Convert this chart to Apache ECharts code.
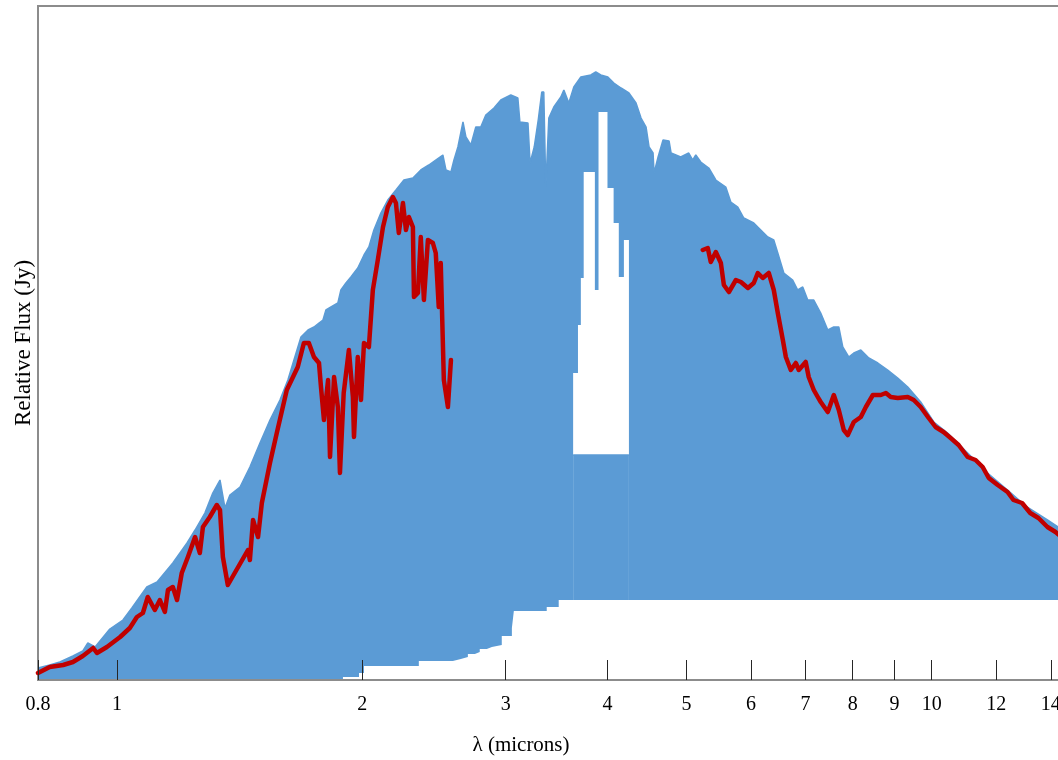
<!DOCTYPE html>
<html>
<head>
<meta charset="utf-8">
<script src="https://cdn.jsdelivr.net/npm/echarts@6/dist/echarts.min.js"></script>
<style>
  html, body { margin: 0; padding: 0; background: #fff; }
  #chart { width: 1058px; height: 760px; }
</style>
</head>
<body>
<div id="chart"></div>
<script>
// wavelength (microns) ticks
const xTicks = [0.8, 1, 2, 3, 4, 5, 6, 7, 8, 9, 10, 12, 14];

// model spectrum, upper envelope
const upperWl = [0.80, 0.827, 0.851, 0.883, 0.908, 0.921, 0.940, 0.980, 1.017, 1.043,
  1.088, 1.120, 1.171, 1.219, 1.247, 1.282, 1.311, 1.338, 1.357, 1.376,
  1.416, 1.456, 1.498, 1.541, 1.585, 1.621, 1.649, 1.682, 1.716, 1.745,
  1.770, 1.790, 1.805, 1.831, 1.867, 1.883, 1.910, 1.937, 1.975, 2.010,
  2.038, 2.067, 2.108, 2.150, 2.200, 2.250, 2.308, 2.360, 2.414, 2.462,
  2.512, 2.534, 2.570, 2.592, 2.621, 2.659, 2.681, 2.719, 2.757, 2.796,
  2.836, 2.902, 2.959, 3.044, 3.105, 3.123, 3.195, 3.214, 3.252, 3.289,
  3.322, 3.341, 3.360, 3.389, 3.437, 3.506, 3.536, 3.586, 3.637, 3.710,
  3.816, 3.870, 3.925, 4.004, 4.073, 4.156, 4.250, 4.336, 4.398, 4.461,
  4.499, 4.550, 4.563, 4.615, 4.680, 4.761, 4.788, 4.920, 5.033, 5.090,
  5.134, 5.207, 5.326, 5.433, 5.588, 5.668, 5.781, 5.880, 6.048, 6.134,
  6.293, 6.400, 6.473, 6.584, 6.751, 6.848, 6.946, 7.045, 7.166, 7.308,
  7.455, 7.583, 7.691, 7.778, 7.910, 8.024, 8.185, 8.372, 8.588, 8.831,
  9.085, 9.346, 9.694, 10.06, 10.46, 11.07, 11.71, 12.39, 13.09, 13.87,
  14.30, 14.80];
const upperFlux = [0.12, 0.15, 0.18, 0.24, 0.29, 0.37, 0.33, 0.51, 0.60, 0.72,
  0.93, 0.98, 1.17, 1.37, 1.50, 1.67, 1.87, 2.00, 1.72, 1.85,
  1.93, 2.13, 2.37, 2.60, 2.80, 3.00, 3.20, 3.43, 3.50, 3.53,
  3.57, 3.60, 3.70, 3.73, 3.77, 3.90, 3.97, 4.03, 4.12, 4.25,
  4.33, 4.50, 4.67, 4.80, 4.90, 5.00, 5.02, 5.10, 5.15, 5.20,
  5.25, 5.10, 5.08, 5.20, 5.33, 5.58, 5.43, 5.35, 5.53, 5.53,
  5.65, 5.72, 5.80, 5.85, 5.82, 5.58, 5.57, 5.17, 5.33, 5.60,
  5.88, 5.88, 4.93, 5.62, 5.73, 5.83, 5.90, 5.77, 5.93, 6.03,
  6.05, 6.08, 6.05, 6.03, 5.97, 5.92, 5.87, 5.77, 5.62, 5.53,
  5.33, 5.27, 5.07, 5.23, 5.40, 5.39, 5.27, 5.23, 5.27, 5.20,
  5.25, 5.18, 5.12, 5.00, 4.93, 4.78, 4.73, 4.62, 4.57, 4.52,
  4.43, 4.40, 4.27, 4.07, 4.00, 3.90, 3.93, 3.80, 3.80, 3.67,
  3.50, 3.53, 3.53, 3.33, 3.23, 3.27, 3.30, 3.22, 3.17, 3.10,
  3.02, 2.93, 2.78, 2.58, 2.47, 2.27, 2.07, 1.90, 1.73, 1.60,
  1.53, 1.45];

// open window inside the 3.6-4.3 micron band (step values)
const gapWl = [3.63, 3.68, 3.71, 3.74, 3.86, 3.90, 4.00, 4.07, 4.13, 4.19, 4.25];
const gapTop = [3.07, 3.55, 4.02, 5.08, 3.90, 5.68, 4.92, 4.57, 4.03, 4.40, 4.40];
const gapFloorWl = [3.63, 4.25];
const gapFloor = [2.25, 2.25];

// model spectrum, lower envelope (step values)
const lowerWl = [1.894, 1.982, 2.010, 2.347, 2.584, 2.643, 2.696, 2.750, 2.788, 2.844,
  2.885, 2.967, 3.053, 3.070, 3.369, 3.485, 14.80];
const lowerFlux = [0.03, 0.07, 0.14, 0.19, 0.21, 0.23, 0.26, 0.28, 0.31, 0.33,
  0.35, 0.44, 0.52, 0.69, 0.73, 0.80, 0.80];

// observed spectrum, near-IR part
const obsNirWl = [0.80, 0.827, 0.859, 0.883, 0.908, 0.935, 0.945, 0.972, 1.009, 1.037,
  1.058, 1.076, 1.091, 1.113, 1.129, 1.145, 1.155, 1.171, 1.185, 1.201,
  1.222, 1.247, 1.264, 1.275, 1.300, 1.326, 1.338, 1.349, 1.368, 1.448,
  1.456, 1.469, 1.490, 1.506, 1.541, 1.571, 1.616, 1.667, 1.696, 1.720,
  1.745, 1.770, 1.780, 1.795, 1.816, 1.826, 1.847, 1.867, 1.878, 1.898,
  1.926, 1.948, 1.954, 1.975, 1.993, 2.010, 2.038, 2.061, 2.090, 2.121,
  2.150, 2.181, 2.200, 2.218, 2.244, 2.263, 2.282, 2.308, 2.315, 2.341,
  2.360, 2.381, 2.408, 2.442, 2.462, 2.483, 2.497, 2.519, 2.548, 2.570];
const obsNirFlux = [0.07, 0.13, 0.15, 0.18, 0.24, 0.32, 0.27, 0.33, 0.43, 0.52,
  0.63, 0.67, 0.83, 0.70, 0.80, 0.68, 0.90, 0.93, 0.80, 1.07,
  1.23, 1.43, 1.27, 1.53, 1.63, 1.75, 1.70, 1.23, 0.95, 1.30,
  1.20, 1.60, 1.43, 1.77, 2.17, 2.47, 2.90, 3.13, 3.37, 3.37,
  3.23, 3.17, 2.93, 2.60, 3.00, 2.23, 3.03, 2.73, 2.07, 2.87,
  3.30, 2.83, 2.43, 3.23, 2.80, 3.37, 3.33, 3.90, 4.20, 4.53,
  4.73, 4.83, 4.77, 4.47, 4.77, 4.50, 4.63, 4.53, 3.83, 3.87,
  4.43, 3.80, 4.40, 4.37, 4.27, 3.73, 4.17, 3.00, 2.73, 3.20];

// observed spectrum, mid-IR part
const obsMirWl = [5.236, 5.311, 5.356, 5.433, 5.511, 5.558, 5.638, 5.750, 5.832, 5.949,
  6.048, 6.117, 6.204, 6.310, 6.400, 6.473, 6.566, 6.622, 6.715, 6.811,
  6.869, 7.004, 7.064, 7.166, 7.247, 7.308, 7.455, 7.583, 7.691, 7.800,
  7.889, 8.024, 8.185, 8.302, 8.468, 8.661, 8.785, 8.907, 9.085, 9.346,
  9.505, 9.694, 9.915, 10.11, 10.34, 10.55, 10.79, 11.07, 11.32, 11.55,
  11.75, 12.05, 12.39, 12.60, 12.91, 13.21, 13.52, 13.87, 14.19, 14.48];
const obsMirFlux = [4.30, 4.32, 4.18, 4.28, 4.17, 3.95, 3.88, 4.00, 3.98, 3.92,
  3.97, 4.07, 4.02, 4.07, 3.90, 3.67, 3.40, 3.23, 3.10, 3.17,
  3.10, 3.18, 3.03, 2.90, 2.83, 2.78, 2.68, 2.85, 2.70, 2.50,
  2.45, 2.58, 2.63, 2.73, 2.85, 2.85, 2.87, 2.83, 2.82, 2.83,
  2.80, 2.73, 2.62, 2.53, 2.48, 2.42, 2.35, 2.23, 2.20, 2.13,
  2.02, 1.95, 1.88, 1.80, 1.77, 1.67, 1.62, 1.53, 1.48, 1.42];

const BLUE = '#5b9bd5';
const RED = '#c00000';
const FONT = "'Liberation Serif', 'Times New Roman', serif";

function pairs(xs, ys) {
  return xs.map((x, i) => [x, ys[i]]);
}

function area(name, xs, ys, color, step) {
  return {
    name: name,
    type: 'line',
    data: pairs(xs, ys),
    step: step || false,
    showSymbol: false,
    silent: true,
    lineStyle: { width: color === BLUE ? 1.5 : 0, color: color },
    areaStyle: { color: color, opacity: 1 }
  };
}

function observed(xs, ys) {
  return {
    type: 'line',
    data: pairs(xs, ys),
    showSymbol: false,
    silent: true,
    lineStyle: { width: 4.5, color: RED, cap: 'round', join: 'round' }
  };
}

const chart = echarts.init(document.getElementById('chart'));
chart.setOption({
  animation: false,
  backgroundColor: '#fff',
  grid: {
    left: 38, top: 6, width: 1060, height: 674,
    outerBoundsMode: 'none', containLabel: false,
    show: true, borderColor: '#8c8c8c', borderWidth: 2
  },
  xAxis: {
    type: 'log', logBase: 10, min: 0.8, max: 16, z: 10,
    axisLine: { lineStyle: { color: '#8c8c8c', width: 2 } },
    axisTick: { inside: true, length: 20, customValues: xTicks,
      lineStyle: { color: '#262626', width: 1 } },
    minorTick: { show: false },
    splitLine: { show: false },
    axisLabel: { customValues: xTicks, margin: 15, color: '#000',
      fontFamily: FONT, fontSize: 20, formatter: v => String(v) },
    name: 'λ (microns)', nameLocation: 'middle', nameGap: 55,
    nameTextStyle: { fontFamily: FONT, fontSize: 21, color: '#000', padding: [0, 94, 0, 0] }
  },
  yAxis: {
    type: 'value', min: 0, max: 6.74,
    axisLine: { show: false }, axisTick: { show: false },
    axisLabel: { show: false }, splitLine: { show: false },
    name: 'Relative Flux (Jy)', nameLocation: 'middle', nameGap: 3,
    nameTextStyle: { fontFamily: FONT, fontSize: 23, color: '#000' }
  },
  series: [
    area('model', upperWl, upperFlux, BLUE),
    area('window', gapWl, gapTop, '#fff', 'end'),
    area('windowFloor', gapFloorWl, gapFloor, BLUE),
    area('modelLower', lowerWl, lowerFlux, '#fff', 'end'),
    observed(obsNirWl, obsNirFlux),
    observed(obsMirWl, obsMirFlux)
  ]
});
</script>
</body>
</html>
